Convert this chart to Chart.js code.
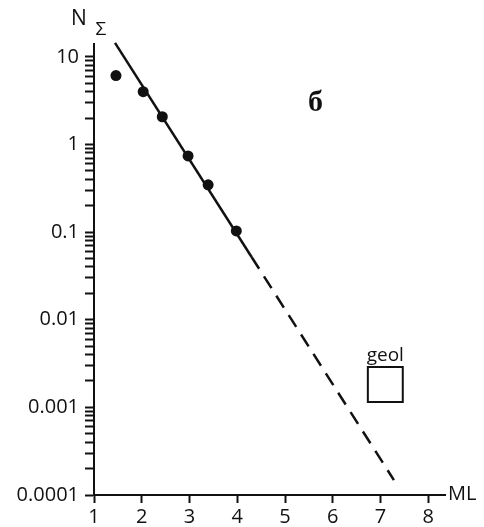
<!DOCTYPE html>
<html>
<head>
<meta charset="utf-8">
<script src="https://cdn.jsdelivr.net/npm/chart.js@4.4.1/dist/chart.umd.min.js"></script>
<style>
  html, body { margin: 0; padding: 0; background: #fff; }
  #wrap { width: 484px; height: 527px; position: relative; }
</style>
</head>
<body>
<div id="wrap"><canvas id="chart"></canvas></div>
<script>
// данные
const magnitudes = [1.46, 2.03, 2.43, 2.97, 3.39, 3.98];
const counts = [6.1, 4.0, 2.07, 0.74, 0.346, 0.103];

// линия аппроксимации: сплошная и пунктирная часть
const fitSolidX = [1.44, 4.3];
const fitSolidY = [14.4, 0.052];
const fitDashX = [4.3, 7.28];
const fitDashY = [0.052, 0.000148];

// геологическая оценка (квадрат)
const geolX = [7.1];
const geolY = [0.00182];

const xTickValues = [1, 2, 3, 4, 5, 6, 7, 8];
const yTickValues = [0.0001, 0.001, 0.01, 0.1, 1, 10];
const yTickLabels = ['0.0001', '0.001', '0.01', '0.1', '1', '10'];

const FONT = '"Open Sans", "DejaVu Sans", sans-serif';
const INK = '#111';

function toPoints(xs, ys) {
    return xs.map((x, i) => ({ x: x, y: ys[i] }));
}

// все деления логарифмической оси: 1..9 на каждую декаду
function logTicks(min, max) {
    const out = [];
    for (let e = -4; e <= 1; e++) {
        for (let k = 1; k <= 9; k++) {
            const v = Number((k * Math.pow(10, e)).toPrecision(2));
            if (v >= min && v <= max) out.push({ value: v });
        }
    }
    return out;
}

const labelsPlugin = {
    id: 'labels',
    afterDraw(chart) {
        const ctx = chart.ctx;
        const x = chart.scales.x;
        const y = chart.scales.y;
        const area = chart.chartArea;
        ctx.save();
        ctx.fillStyle = INK;

        // N с индексом Σ
        ctx.textAlign = 'center';
        ctx.textBaseline = 'middle';
        ctx.font = '21px ' + FONT;
        ctx.fillText('N', area.left - 15, 19);
        ctx.font = '19px ' + FONT;
        ctx.fillText('\u03A3', area.left + 7, 30);

        // ML
        ctx.textAlign = 'left';
        ctx.font = '20px ' + FONT;
        ctx.fillText('ML', area.right + 3, area.bottom - 1);

        // буква б
        ctx.textAlign = 'center';
        ctx.font = 'bold 30px "Liberation Serif", "DejaVu Serif", serif';
        ctx.fillText('\u0431', x.getPixelForValue(5.64), y.getPixelForValue(2.98));

        // подпись geol над квадратом
        ctx.font = '19px ' + FONT;
        ctx.textBaseline = 'alphabetic';
        ctx.fillText('geol', x.getPixelForValue(geolX[0]), y.getPixelForValue(geolY[0]) - 24);
        ctx.restore();
    }
};

new Chart(document.getElementById('chart').getContext('2d'), {
    type: 'scatter',
    data: {
        datasets: [
            {
                data: toPoints(fitSolidX, fitSolidY),
                showLine: true,
                borderColor: INK,
                borderWidth: 2.5,
                pointRadius: 0,
                clip: false
            },
            {
                data: toPoints(fitDashX, fitDashY),
                showLine: true,
                borderColor: INK,
                borderWidth: 2.5,
                borderDash: [14, 9],
                pointRadius: 0,
                clip: false
            },
            {
                data: toPoints(magnitudes, counts),
                backgroundColor: INK,
                borderColor: INK,
                pointRadius: 5.5,
                borderWidth: 0,
                clip: false
            },
            {
                data: toPoints(geolX, geolY),
                pointStyle: 'rect',
                pointRadius: 24.7,
                backgroundColor: 'rgba(255,255,255,0)',
                borderColor: INK,
                borderWidth: 2,
                clip: false
            }
        ]
    },
    options: {
        responsive: true,
        maintainAspectRatio: false,
        animation: false,
        layout: {
            padding: { top: 44, right: 39, left: 0, bottom: 0 }
        },
        plugins: {
            legend: { display: false },
            tooltip: { enabled: false }
        },
        scales: {
            x: {
                type: 'linear',
                min: 1,
                max: 8.35,
                afterBuildTicks: function(scale) {
                    scale.ticks = xTickValues.map(v => ({ value: v }));
                },
                afterFit: function(scale) {
                    scale.height = 32;
                },
                border: { color: INK, width: 2 },
                grid: {
                    drawOnChartArea: false,
                    color: INK,
                    tickColor: INK,
                    tickWidth: 2,
                    tickLength: 8
                },
                ticks: {
                    color: INK,
                    padding: 2,
                    autoSkip: false,
                    maxRotation: 0,
                    font: { family: FONT, size: 20 },
                    callback: function(value) {
                        return String(value);
                    }
                }
            },
            y: {
                type: 'logarithmic',
                min: 0.0001,
                max: 14,
                afterBuildTicks: function(scale) {
                    scale.ticks = logTicks(0.0001, 14);
                },
                afterFit: function(scale) {
                    scale.width = 94;
                },
                border: { color: INK, width: 2 },
                grid: {
                    drawOnChartArea: false,
                    color: INK,
                    tickColor: INK,
                    tickWidth: 2,
                    tickLength: 9
                },
                ticks: {
                    color: INK,
                    padding: 6,
                    autoSkip: false,
                    font: { family: FONT, size: 20 },
                    callback: function(value) {
                        const i = yTickValues.findIndex(t => Math.abs(t - value) < t * 1e-6);
                        return i >= 0 ? yTickLabels[i] : '';
                    }
                }
            }
        }
    },
    plugins: [labelsPlugin]
});
</script>
</body>
</html>
